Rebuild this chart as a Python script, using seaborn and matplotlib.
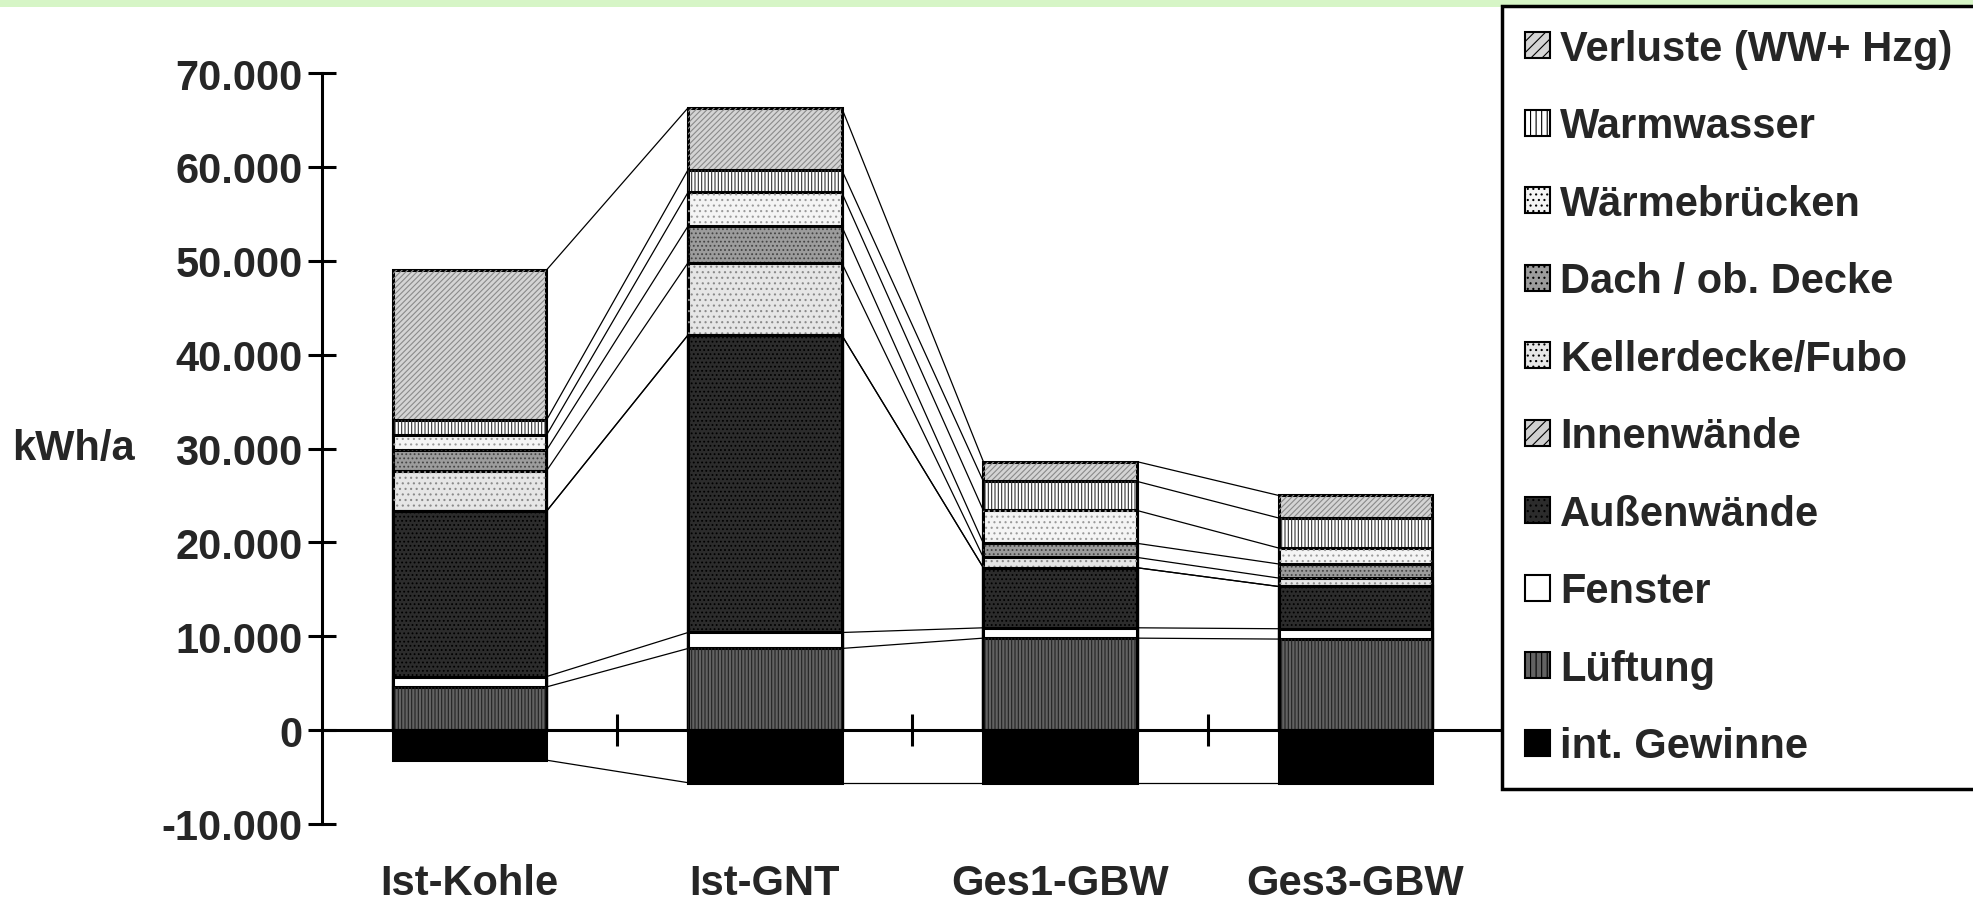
import numpy as np
import seaborn as sns
import matplotlib
matplotlib.use("Agg")
from matplotlib import pyplot as plt
import matplotlib.patches as mpatches
from matplotlib.ticker import FuncFormatter

sns.set_style("white")
plt.rcParams['font.family'] = ['Liberation Sans', 'DejaVu Sans']
plt.rcParams['font.weight'] = 'bold'
plt.rcParams['axes.labelweight'] = 'bold'
plt.rcParams['hatch.linewidth'] = 0.8

# data (kWh/a)
categories = ['Ist-Kohle', 'Ist-GNT', 'Ges1-GBW', 'Ges3-GBW']
int_gewinne = [-3200, -5600, -5600, -5600]
lueftung = [4600, 8700, 9800, 9700]
fenster = [1100, 1700, 1100, 1100]
aussenwaende = [17600, 31700, 6400, 4500]
innenwaende = [0, 0, 0, 0]
kellerdecke = [4300, 7700, 1100, 900]
dach = [2200, 3900, 1500, 1500]
waermebruecken = [1600, 3600, 3500, 1700]
warmwasser = [1600, 2400, 3100, 3200]
verluste = [16000, 6600, 2100, 2400]

# stacking order bottom -> top (positive part)
layers = [
    ('Lüftung', lueftung),
    ('Fenster', fenster),
    ('Außenwände', aussenwaende),
    ('Innenwände', innenwaende),
    ('Kellerdecke/Fubo', kellerdecke),
    ('Dach / ob. Decke', dach),
    ('Wärmebrücken', waermebruecken),
    ('Warmwasser', warmwasser),
    ('Verluste (WW+ Hzg)', verluste),
]

# face colour, hatch, hatch colour
styles = {
    'int. Gewinne': ('#000000', None, None),
    'Lüftung': ('#626262', '|||||', '#222222'),
    'Fenster': ('#ffffff', None, None),
    'Außenwände': ('#2c2c2c', '....', '#000000'),
    'Innenwände': ('#d0d0d0', '//////', '#808080'),
    'Kellerdecke/Fubo': ('#e6e6e6', '...', '#8a8a8a'),
    'Dach / ob. Decke': ('#9c9c9c', '....', '#444444'),
    'Wärmebrücken': ('#f4f4f4', '...', '#9a9a9a'),
    'Warmwasser': ('#ffffff', '|||||', '#333333'),
    'Verluste (WW+ Hzg)': ('#d4d4d4', '//////', '#8a8a8a'),
}

bar_w = 0.52
edge_lw = 2.2

fig = plt.figure(figsize=(19.74, 9.12), dpi=100)
ax = fig.add_axes([322 / 1974, 1 - 825 / 912, (1503 - 322) / 1974, (825 - 74) / 912])

# light green strip at the top
fig.add_artist(mpatches.Rectangle((0, 1 - 8 / 912), 1, 8 / 912, transform=fig.transFigure,
                                  color='#d6f5c6', lw=0, zorder=0))


def draw_bar(values, name):
    face, hatch, hcol = styles[name]
    sns.barplot(x=categories, y=values, color=face, saturation=1, width=bar_w,
                edgecolor='black', linewidth=edge_lw, ax=ax)
    if hatch:
        n0 = len(ax.patches)
        sns.barplot(x=categories, y=values, color=face, saturation=1, width=bar_w, ax=ax)
        for p in ax.patches[n0:]:
            p.set_facecolor('none')
            p.set_edgecolor(hcol)
            p.set_linewidth(0)
            p.set_hatch(hatch)


tops = np.cumsum([v for _, v in layers], axis=0)

# draw cumulative bars from the top layer down, so lower layers cover upper ones
for k in reversed(range(len(layers))):
    draw_bar(tops[k], layers[k][0])
draw_bar(int_gewinne, 'int. Gewinne')

# thin lines joining the layer boundaries of neighbouring bars
bounds = [int_gewinne] + [list(t) for t in tops]
for b in bounds:
    for i in range(len(categories) - 1):
        ax.plot([i + bar_w / 2, i + 1 - bar_w / 2], [b[i], b[i + 1]], color='black', lw=0.9)

ax.set_xlim(-0.5, 3.5)
ax.set_ylim(-10000, 70000)
for s in ['top', 'right']:
    ax.spines[s].set_visible(False)
ax.spines['bottom'].set_position(('data', 0))
ax.spines['left'].set_linewidth(2.2)
ax.spines['bottom'].set_linewidth(2.2)
ax.spines['left'].set_color('black')
ax.spines['bottom'].set_color('black')

ax.set_yticks(range(-10000, 70001, 10000))
ax.yaxis.set_major_formatter(FuncFormatter(lambda v, p: f"{v:,.0f}".replace(",", ".")))
ax.tick_params(axis='y', direction='inout', length=20, width=2.2, labelsize=30, pad=4,
               left=True, color='black')

ax.set_xticks(range(len(categories)))
ax.set_xticklabels(categories)
ax.tick_params(axis='x', which='major', length=0, pad=96, labelsize=30)
ax.set_xticks([0.5, 1.5, 2.5], minor=True)
ax.tick_params(axis='x', which='minor', direction='inout', length=23, width=2.2,
               bottom=True, color='black')

ax.set_ylabel('kWh/a', rotation=0, fontsize=30, fontweight='bold', ha='left', va='center')
ax.yaxis.set_label_coords(-0.262, 0.5)
ax.set_xlabel('')

# legend, top entry first
order = ['Verluste (WW+ Hzg)', 'Warmwasser', 'Wärmebrücken', 'Dach / ob. Decke',
         'Kellerdecke/Fubo', 'Innenwände', 'Außenwände', 'Fenster', 'Lüftung', 'int. Gewinne']
handles = []
for name in order:
    face, hatch, hcol = styles[name]
    handles.append(mpatches.Patch(facecolor=face, edgecolor='black', linewidth=1.5,
                                  hatch=(hatch[:3] if hatch else None)))
leg = fig.legend(handles, order, loc='upper left', bbox_to_anchor=(1502 / 1974, 1 - 7 / 912),
                 frameon=True, fancybox=False, edgecolor='black', framealpha=1,
                 fontsize=30, handlelength=0.6, handleheight=0.6, handletextpad=0.25,
                 labelspacing=0.9, borderpad=0.55, borderaxespad=0)
leg.get_frame().set_linewidth(2.5)

fig.savefig('out.png', dpi=100)
